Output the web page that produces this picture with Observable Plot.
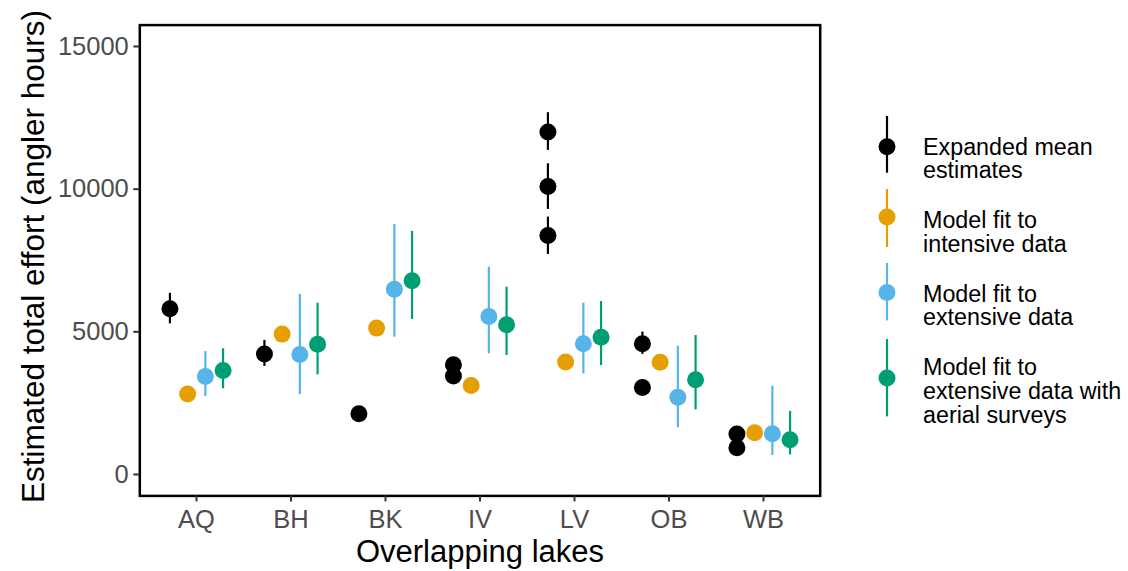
<!DOCTYPE html>
<html>
<head>
<meta charset="utf-8">
<script src="https://cdn.jsdelivr.net/npm/d3@7"></script>
<script src="https://cdn.jsdelivr.net/npm/@observablehq/plot@0.6"></script>
<style>
  body { margin: 0; background: #fff; font-family: "Liberation Sans", Arial, sans-serif; }
  #wrap { position: relative; width: 1128px; height: 571px; overflow: hidden; }
  .legkey { position: absolute; overflow: visible; }
  .legtxt { position: absolute; left: 923px; font-size: 23.3px; line-height: 0.85; color: #000; white-space: nowrap; }
</style>
</head>
<body>
<div id="wrap"></div>
<script>
// ---------- data ----------
const lakes = ["AQ", "BH", "BK", "IV", "LV", "OB", "WB"];
const seriesNames = [
  "Expanded mean estimates",
  "Model fit to intensive data",
  "Model fit to extensive data",
  "Model fit to extensive data with aerial surveys"
];
const seriesColors = ["#000000", "#E69F00", "#56B4E9", "#009E73"];
const legendLines = [
  ["Expanded mean", "estimates"],
  ["Model fit to", "intensive data"],
  ["Model fit to", "extensive data"],
  ["Model fit to", "extensive data with", "aerial surveys"]
];
const yTicks = [0, 5000, 10000, 15000];

// Expanded mean estimates (several per lake)
const expLake = ["AQ", "BH", "BK", "IV", "IV", "LV", "LV", "LV", "OB", "OB", "WB", "WB"];
const expEst  = [5810, 4220, 2130, 3850, 3450, 12000, 10090, 8380, 4580, 3050, 1420, 940];
const expLow  = [5280, 3790, 2000, 3720, 3320, 11360, 9290, 7710, 4210, 2920, 1290, 810];
const expHigh = [6350, 4700, 2260, 3980, 3580, 12680, 10890, 9020, 4990, 3180, 1550, 1070];

// Model fit to intensive data (one per lake, in lakes order)
const intEst  = [2820, 4920, 5130, 3120, 3940, 3930, 1460];
const intLow  = [2680, 4780, 4990, 2980, 3800, 3790, 1320];
const intHigh = [2960, 5060, 5270, 3260, 4080, 4070, 1600];

// Model fit to extensive data
const extEst  = [3435, 4206, 6495, 5537, 4580, 2710, 1425];
const extLow  = [2734, 2804, 4813, 4230, 3528, 1636, 666];
const extHigh = [4311, 6308, 8762, 7266, 6005, 4497, 3096];

// Model fit to extensive data with aerial surveys
const aerEst  = [3645, 4568, 6788, 5246, 4813, 3318, 1215];
const aerLow  = [3003, 3493, 5432, 4171, 3820, 2266, 689];
const aerHigh = [4405, 6005, 8516, 6565, 6063, 4872, 2208];

// ---------- table ----------
const dodgeWidth = 0.75;
const nSeries = seriesNames.length;
function xpos(lake, s) {
  return lakes.indexOf(lake) + 1 + (s - (nSeries - 1) / 2) * (dodgeWidth / nSeries);
}
const rows = [];
expLake.forEach((lk, i) => rows.push({lake: lk, series: seriesNames[0], s: 0, est: expEst[i], low: expLow[i], high: expHigh[i]}));
lakes.forEach((lk, i) => rows.push({lake: lk, series: seriesNames[1], s: 1, est: intEst[i], low: intLow[i], high: intHigh[i]}));
lakes.forEach((lk, i) => rows.push({lake: lk, series: seriesNames[2], s: 2, est: extEst[i], low: extLow[i], high: extHigh[i]}));
lakes.forEach((lk, i) => rows.push({lake: lk, series: seriesNames[3], s: 3, est: aerEst[i], low: aerLow[i], high: aerHigh[i]}));
rows.forEach(d => d.x = xpos(d.lake, d.s));

// ---------- plot ----------
const plot = Plot.plot({
  width: 1128,
  height: 571,
  marginLeft: 139.3,
  marginRight: 308.3,
  marginTop: 24.6,
  marginBottom: 75.6,
  style: {fontFamily: "Liberation Sans, Arial, sans-serif", background: "#fff", overflow: "visible"},
  x: {type: "linear", domain: [0.4, lakes.length + 0.6]},
  y: {type: "linear", domain: [-750, 15750]},
  color: {domain: seriesNames, range: seriesColors},
  marks: [
    Plot.ruleX(rows, {x: "x", y1: "low", y2: "high", stroke: "series", strokeWidth: 2.2}),
    Plot.dot(rows, {x: "x", y: "est", fill: "series", r: 8.5, stroke: null}),
    Plot.frame({stroke: "#000", strokeWidth: 2.5}),
    Plot.axisX({
      ticks: lakes.map((_, i) => i + 1),
      tickFormat: i => lakes[i - 1],
      tickSize: 6, tickPadding: 8, fontSize: 25.5,
      fill: "#4d4d4d", stroke: "#333", strokeWidth: 2, label: null
    }),
    Plot.axisY({
      ticks: yTicks,
      tickFormat: d => String(d),
      tickSize: 6, tickPadding: 5, fontSize: 25.5,
      fill: "#4d4d4d", stroke: "#333", strokeWidth: 2, label: null
    }),
    Plot.text(["Overlapping lakes"], {frameAnchor: "bottom", lineAnchor: "middle", textAnchor: "middle", dy: 56, fontSize: 31, fill: "#000"}),
    Plot.text(["Estimated total effort (angler hours)"], {frameAnchor: "left", lineAnchor: "middle", textAnchor: "middle", rotate: -90, dx: -106, dy: -4, fontSize: 31.5, fill: "#000"})
  ]
});

const wrap = document.getElementById("wrap");
wrap.appendChild(plot);

// ---------- legend ----------
const legKeyX = 886.7;
const legKeyTop = [116, 189.3, 263.3, 339.3];
const legKeyBottom = [172.7, 247.3, 320.7, 416.7];
const legDotY = [146.7, 217.3, 292.7, 378.3];
const legBaselines = [[156, 179.4], [229.4, 253.4], [302.7, 326.2], [376, 400.4, 424.4]];
const fs = 23.3, lh = 0.85;
const baselineOffset = fs * ((lh - 1.117) / 2 + 0.905);

seriesNames.forEach((name, i) => {
  const top = legKeyTop[i], bot = legKeyBottom[i];
  const svgNS = "http://www.w3.org/2000/svg";
  const svg = document.createElementNS(svgNS, "svg");
  svg.setAttribute("class", "legkey");
  svg.setAttribute("width", 20);
  svg.setAttribute("height", bot - top);
  svg.style.left = (legKeyX - 10) + "px";
  svg.style.top = top + "px";
  const line = document.createElementNS(svgNS, "line");
  line.setAttribute("x1", 10); line.setAttribute("x2", 10);
  line.setAttribute("y1", 0); line.setAttribute("y2", bot - top);
  line.setAttribute("stroke", seriesColors[i]); line.setAttribute("stroke-width", 2.2);
  svg.appendChild(line);
  const c = document.createElementNS(svgNS, "circle");
  c.setAttribute("cx", 10); c.setAttribute("cy", legDotY[i] - top); c.setAttribute("r", 8.5);
  c.setAttribute("fill", seriesColors[i]);
  svg.appendChild(c);
  wrap.appendChild(svg);
  legendLines[i].forEach((t, j) => {
    const d = document.createElement("div");
    d.className = "legtxt";
    d.textContent = t;
    d.style.top = (legBaselines[i][j] - baselineOffset) + "px";
    wrap.appendChild(d);
  });
});
</script>
</body>
</html>
